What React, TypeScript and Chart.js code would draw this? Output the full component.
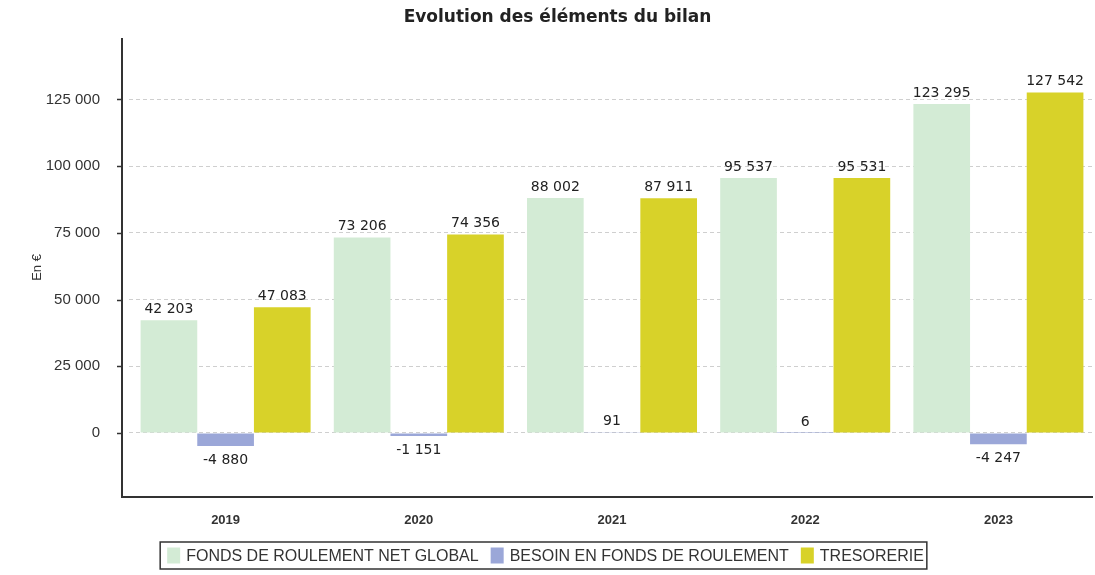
import React, { useEffect, useRef } from "react";
import { Chart, registerables } from "chart.js";

Chart.register(...registerables);

const categories = ["2019", "2020", "2021", "2022", "2023"];
const fondsRoulement = [42203, 73206, 88002, 95537, 123295];
const besoinFonds = [-4880, -1151, 91, 6, -4247];
const tresorerie = [47083, 74356, 87911, 95531, 127542];
const yTickValues = [0, 25000, 50000, 75000, 100000, 125000];
const seriesLabels = [
  "FONDS DE ROULEMENT NET GLOBAL",
  "BESOIN EN FONDS DE ROULEMENT",
  "TRESORERIE",
];
const seriesColors = ["#d3ebd5", "#9ba7d8", "#d8d229"];

function fmt(n: number): string {
  const s = String(Math.abs(n)).replace(/\B(?=(\d{3})+(?!\d))/g, " ");
  return (n < 0 ? "-" : "") + s;
}

const decorPlugin = {
  id: "decor",
  afterDatasetsDraw(chart: any) {
    const ctx = chart.ctx;
    const area = chart.chartArea;
    const y = chart.scales.y;
    ctx.save();
    // axes lines
    const axX = area.left - 7;
    ctx.strokeStyle = "#333";
    ctx.lineWidth = 2;
    ctx.beginPath();
    ctx.moveTo(axX, area.top);
    ctx.lineTo(axX, area.bottom);
    ctx.lineTo(area.right - 2, area.bottom);
    ctx.stroke();
    ctx.lineWidth = 1.5;
    yTickValues.forEach((v) => {
      const py = Math.round(y.getPixelForValue(v)) + 0.5;
      ctx.beginPath();
      ctx.moveTo(axX - 5, py);
      ctx.lineTo(axX, py);
      ctx.stroke();
    });
    // data labels
    ctx.font = "14px 'DejaVu Sans'";
    ctx.fillStyle = "#222";
    ctx.textAlign = "center";
    chart.data.datasets.forEach((ds: any, i: number) => {
      const meta = chart.getDatasetMeta(i);
      meta.data.forEach((bar: any, j: number) => {
        const v = ds.data[j];
        if (v >= 0) {
          ctx.textBaseline = "bottom";
          ctx.fillText(fmt(v), bar.x, bar.y - 4);
        } else {
          ctx.textBaseline = "top";
          ctx.fillText(fmt(v), bar.x, bar.y + 7);
        }
      });
    });
    // legend
    ctx.font = "16px 'Liberation Sans'";
    const sw = 13, sh = 16, gapText = 6, gapItem = 12, padL = 7, padR = 3;
    const widths = chart.data.datasets.map(
      (ds: any) => sw + gapText + ctx.measureText(ds.label).width
    );
    const total =
      widths.reduce((a: number, b: number) => a + b, 0) +
      gapItem * (widths.length - 1) +
      padL + padR;
    const boxLeft = 543.5 - total / 2;
    const boxTop = 542;
    const boxH = 27;
    ctx.strokeStyle = "#333";
    ctx.lineWidth = 1.5;
    ctx.strokeRect(boxLeft, boxTop, total, boxH);
    let x = boxLeft + padL;
    const cy = boxTop + boxH / 2;
    chart.data.datasets.forEach((ds: any, i: number) => {
      ctx.fillStyle = ds.backgroundColor;
      ctx.fillRect(x, cy - sh / 2, sw, sh);
      ctx.fillStyle = "#333";
      ctx.textAlign = "left";
      ctx.textBaseline = "middle";
      ctx.fillText(ds.label, x + sw + gapText, cy + 1);
      x += widths[i] + gapItem;
    });
    ctx.restore();
  },
};

export default function App() {
  const ref = useRef<HTMLCanvasElement | null>(null);
  useEffect(() => {
    document.body.style.margin = "0";
    const chart = new Chart(ref.current as HTMLCanvasElement, {
      type: "bar",
      data: {
        labels: categories,
        datasets: [
          { label: seriesLabels[0], data: fondsRoulement, backgroundColor: seriesColors[0] },
          { label: seriesLabels[1], data: besoinFonds, backgroundColor: seriesColors[1] },
          { label: seriesLabels[2], data: tresorerie, backgroundColor: seriesColors[2] },
        ],
      },
      options: {
        animation: false,
        responsive: true,
        maintainAspectRatio: false,
        datasets: { bar: { categoryPercentage: 0.88, barPercentage: 1.0 } },
        layout: { padding: { left: 20, right: 0, top: 0, bottom: 38 } },
        plugins: {
          legend: { display: false },
          tooltip: { enabled: false },
          title: {
            display: true,
            text: "Evolution des éléments du bilan",
            color: "#222",
            font: { family: "'DejaVu Sans'", size: 17, weight: "bold" },
            padding: { top: 7, bottom: 10 },
          },
        },
        scales: {
          x: {
            grid: { display: false, drawTicks: false },
            border: { display: false },
            ticks: {
              color: "#333",
              font: { family: "'Liberation Sans'", size: 13, weight: "bold" },
              padding: 16,
            },
            afterFit: (s: any) => {
              s.height = 40;
            },
          },
          y: {
            min: -24000,
            max: 148000,
            afterBuildTicks: (s: any) => {
              s.ticks = yTickValues.map((v) => ({ value: v }));
            },
            afterFit: (s: any) => {
              s.width = 109;
            },
            grid: { color: "#cfcfcf", drawTicks: false, lineWidth: 1 },
            border: { display: false, dash: [4, 3] },
            ticks: {
              color: "#333",
              font: { family: "'Liberation Sans'", size: 15 },
              padding: 29,
              callback: (v: any) => fmt(Number(v)),
            },
            title: {
              display: true,
              text: "En €",
              color: "#333",
              font: { family: "'Liberation Sans'", size: 13 },
              padding: { top: 10, bottom: 0 },
            },
          },
        },
      },
      plugins: [decorPlugin],
    });
    return () => chart.destroy();
  }, []);
  return (
    <div style={{ width: 1095, height: 575, position: "relative" }}>
      <canvas ref={ref} />
    </div>
  );
}
